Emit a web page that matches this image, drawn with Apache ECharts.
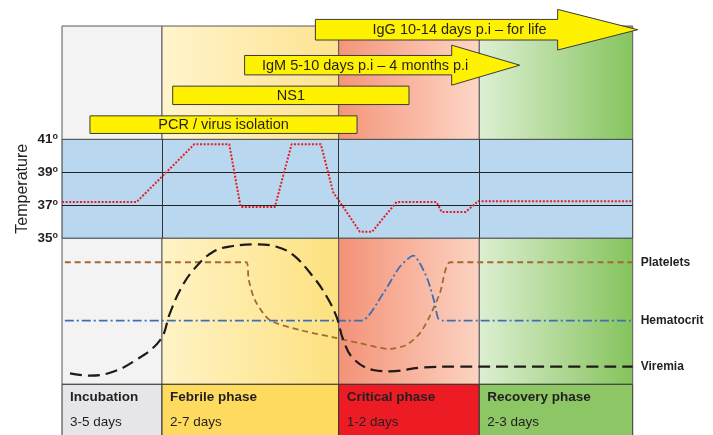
<!DOCTYPE html>
<html><head><meta charset="utf-8">
<script src="https://cdn.jsdelivr.net/npm/echarts@6/dist/echarts.min.js"></script>
<style>html,body{margin:0;padding:0;background:#fff}#c{width:713px;height:435px}</style>
</head><body><div id="c"></div>
<script>
// ---- data ----
const phaseNames = ['Incubation', 'Febrile phase', 'Critical phase', 'Recovery phase'];
const phaseDays = ['3-5 days', '2-7 days', '1-2 days', '2-3 days'];
const phaseBounds = [0, 17.52, 48.48, 73.12, 100];

const tests = ['PCR / virus isolation', 'NS1', 'IgM 5-10 days p.i \u2013 4 months p.i', 'IgG 10-14 days p.i \u2013 for life'];
const testStart = [4.9, 19.4, 32.0, 44.4];
const testEnd = [51.7, 60.8, 80.2, 100.87];
const testRow = [0.5, 1.5, 2.53, 3.74];
const testIsArrow = [false, false, true, true];

const tempTicks = [35, 37, 39, 41];
const tempX = [0, 13.08, 23.17, 29.3, 31.3, 37.3, 40.23, 45.36, 47.51, 52.19, 54.34, 58.62, 65.62, 66.5, 70.75, 72.91, 100];
const tempY = [37.2, 37.2, 40.7, 40.7, 36.9, 36.9, 40.7, 40.7, 37.8, 35.4, 35.4, 37.2, 37.2, 36.6, 36.6, 37.25, 37.25];

const plateletsX = [0.5, 28.0, 32.3, 32.7, 33.8, 36.4, 41.7, 47.5, 52.2, 57.4, 60.3, 62.7, 64.4, 66.2, 68.0, 72.0, 100];
const plateletsY = [83.6, 83.6, 83.6, 72.0, 57.7, 44.0, 37.2, 32.2, 28.1, 24.2, 26.9, 34.9, 46.3, 62.3, 83.6, 83.6, 83.6];

const hematocritX = [0.5, 50.0, 52.5, 56.3, 59.2, 61.6, 62.7, 64.1, 65.3, 65.9, 66.7, 69.0, 100];
const hematocritY = [43.6, 43.6, 43.6, 62.3, 80.5, 88.1, 82.9, 71.4, 55.5, 45.2, 43.6, 43.6, 43.6];

const viremiaX = [1.4, 4.9, 8.4, 12.5, 17.2, 18.9, 20.7, 23.0, 26.5, 30.0, 34.1, 37.6, 40.5, 44.0, 46.4, 48.1, 49.3, 51.0, 54.5, 57.4, 63.3, 69.1, 80.0, 100];
const viremiaY = [7.5, 5.9, 7.9, 15.5, 30.3, 48.6, 64.6, 78.3, 90.8, 94.7, 95.9, 94.2, 88.6, 73.7, 60.0, 46.3, 30.3, 17.8, 9.8, 8.9, 11.6, 12.1, 12.1, 12.1];

// ---- styles ----
const TXT = '#231f20';
const FONT = '"Liberation Sans", Arial, Helvetica, sans-serif';
const lg = (a, b) => new echarts.graphic.LinearGradient(0, 0, 1, 0, [{offset: 0, color: a}, {offset: 1, color: b}]);
const topGrad = [lg('#f3f3f3', '#f3f3f3'), lg('#fff4cc', '#fde390'), lg('#f4957a', '#fdd6c6'), lg('#def0d4', '#86c45e')];
const botGrad = [lg('#f3f3f3', '#f3f3f3'), lg('#fff3c6', '#fde17f'), lg('#f39277', '#fcd3c2'), lg('#ddefd2', '#85c35c')];
const labelFill = ['#e6e6e8', '#fedb5e', '#ed1c24', '#8cc665'];

const zip = (xs, ys) => xs.map((x, i) => [x, ys[i]]);
const cells = phaseNames.map((n, i) => [phaseBounds[i], phaseBounds[i + 1], i]);

function bgRender(grads) {
  return function (params, api) {
    const cs = params.coordSys;
    const x0 = api.coord([api.value(0), 0])[0];
    const x1 = api.coord([api.value(1), 0])[0];
    return {type: 'rect', shape: {x: x0, y: cs.y, width: x1 - x0, height: cs.height},
      style: {fill: grads[params.dataIndex], stroke: '#58595b', lineWidth: 1}};
  };
}

function labelRender(params, api) {
  const cs = params.coordSys;
  const i = params.dataIndex;
  const x0 = api.coord([api.value(0), 0])[0];
  const x1 = api.coord([api.value(1), 0])[0];
  return {type: 'group', children: [
    {type: 'rect', shape: {x: x0, y: cs.y, width: x1 - x0, height: cs.height + 2},
      style: {fill: labelFill[i], stroke: '#333', lineWidth: 1}},
    {type: 'text', x: x0 + 8, y: cs.y + 12.5, style: {text: phaseNames[i], fill: TXT, font: 'bold 13.5px ' + FONT, verticalAlign: 'middle'}},
    {type: 'text', x: x0 + 8, y: cs.y + 38, style: {text: phaseDays[i], fill: TXT, font: '13.5px ' + FONT, verticalAlign: 'middle'}}
  ]};
}

const bodyHalf = [8.8, 9.2, 9.7, 10.3];
const headHalf = [0, 0, 20, 20.3];
const headLen = [0, 0, 68, 80];
function testRender(params, api) {
  const i = params.dataIndex;
  const s = api.coord([api.value(0), api.value(2)]);
  const e = api.coord([api.value(1), api.value(2)]);
  const cy = s[1];
  const style = {fill: '#fff200', stroke: '#3a3a3a', lineWidth: 1};
  let shape;
  let tx;
  if (!testIsArrow[i]) {
    shape = {type: 'rect', shape: {x: s[0], y: cy - bodyHalf[i], width: e[0] - s[0], height: bodyHalf[i] * 2}, style};
    tx = (s[0] + e[0]) / 2;
  } else {
    const bx = e[0] - headLen[i];
    const b = bodyHalf[i], h = headHalf[i];
    shape = {type: 'polygon', shape: {points: [
      [s[0], cy - b], [bx, cy - b], [bx, cy - h], [e[0], cy], [bx, cy + h], [bx, cy + b], [s[0], cy + b]
    ]}, style};
    tx = (s[0] + e[0]) / 2 - 17;
  }
  return {type: 'group', children: [shape,
    {type: 'text', x: tx, y: cy + 0.5, style: {text: tests[i], fill: TXT, font: '14.5px ' + FONT, align: 'center', verticalAlign: 'middle'}}]};
}

const G = {left: 62, width: 570.7};
const hiddenX = i => ({type: 'value', gridIndex: i, min: 0, max: 100, show: false});

const option = {
  animation: false,
  backgroundColor: '#ffffff',
  textStyle: {fontFamily: FONT},
  grid: [
    Object.assign({top: 26, height: 113.3}, G),
    Object.assign({top: 139.3, height: 99, show: true, backgroundColor: '#b9d8f0', borderColor: '#333', borderWidth: 1}, G),
    Object.assign({top: 238.3, height: 146}, G),
    Object.assign({top: 384.3, height: 50.7}, G)
  ],
  xAxis: [hiddenX(0), hiddenX(1), hiddenX(2), hiddenX(3)],
  yAxis: [
    {type: 'value', gridIndex: 0, min: 0, max: 3.867, show: false},
    {type: 'value', gridIndex: 1, min: tempTicks[0], max: tempTicks[tempTicks.length - 1], interval: 2,
      name: 'Temperature', nameLocation: 'middle', nameGap: 31, nameRotate: 90, nameMoveOverlap: false,
      nameTextStyle: {fontSize: 16, color: TXT, fontFamily: FONT},
      axisLine: {show: false}, axisTick: {show: false},
      splitLine: {show: true, lineStyle: {color: '#222', width: 1}},
      axisLabel: {margin: 4, formatter: v => '{n|' + v + '}{o|o}',
        rich: {n: {fontSize: 13.5, fontWeight: 'bold', color: TXT, fontFamily: FONT},
               o: {fontSize: 9, fontWeight: 'bold', color: TXT, fontFamily: FONT, verticalAlign: 'top'}}}},
    {type: 'value', gridIndex: 2, min: 0, max: 100, show: false},
    {type: 'value', gridIndex: 3, min: 0, max: 1, show: false}
  ],
  series: [
    {type: 'custom', xAxisIndex: 0, yAxisIndex: 0, renderItem: bgRender(topGrad), data: cells, z: 1, silent: true},
    {type: 'custom', xAxisIndex: 0, yAxisIndex: 0, renderItem: testRender, z: 5, silent: true,
      data: tests.map((t, i) => [testStart[i], testEnd[i], testRow[i]])},
    {type: 'line', name: 'Temperature', xAxisIndex: 1, yAxisIndex: 1, data: zip(tempX, tempY), symbol: 'none',
      lineStyle: {color: '#e31e25', width: 2, type: [2, 1.6]}, z: 4,
      markLine: {silent: true, symbol: 'none', label: {show: false},
        lineStyle: {color: '#333', type: 'solid', width: 1},
        data: phaseBounds.slice(1, -1).map(v => ({xAxis: v}))}},
    {type: 'custom', xAxisIndex: 2, yAxisIndex: 2, renderItem: bgRender(botGrad), data: cells, z: 1, silent: true},
    {type: 'line', name: 'Platelets', xAxisIndex: 2, yAxisIndex: 2, data: zip(plateletsX, plateletsY), symbol: 'none',
      smooth: 0.25, lineStyle: {color: '#a4692f', width: 1.8, type: [6, 4]}, z: 4,
      endLabel: {show: true, formatter: 'Platelets', distance: 8, color: TXT, fontWeight: 'bold', fontSize: 12, fontFamily: FONT}},
    {type: 'line', name: 'Hematocrit', xAxisIndex: 2, yAxisIndex: 2, data: zip(hematocritX, hematocritY), symbol: 'none',
      smooth: 0.25, lineStyle: {color: '#3c6fb6', width: 1.8, type: [9, 3, 2, 3]}, z: 4,
      endLabel: {show: true, formatter: 'Hematocrit', distance: 8, color: TXT, fontWeight: 'bold', fontSize: 12, fontFamily: FONT}},
    {type: 'line', name: 'Viremia', xAxisIndex: 2, yAxisIndex: 2, data: zip(viremiaX, viremiaY), symbol: 'none',
      smooth: 0.4, lineStyle: {color: '#1f1a17', width: 2.2, type: [12, 6]}, z: 4,
      endLabel: {show: true, formatter: 'Viremia', distance: 8, color: TXT, fontWeight: 'bold', fontSize: 12, fontFamily: FONT}},
    {type: 'custom', xAxisIndex: 3, yAxisIndex: 3, renderItem: labelRender, data: cells, z: 1, silent: true}
  ]
};
const chart = echarts.init(document.getElementById('c'), null, {renderer: 'canvas'});
chart.setOption(option);
</script></body></html>
